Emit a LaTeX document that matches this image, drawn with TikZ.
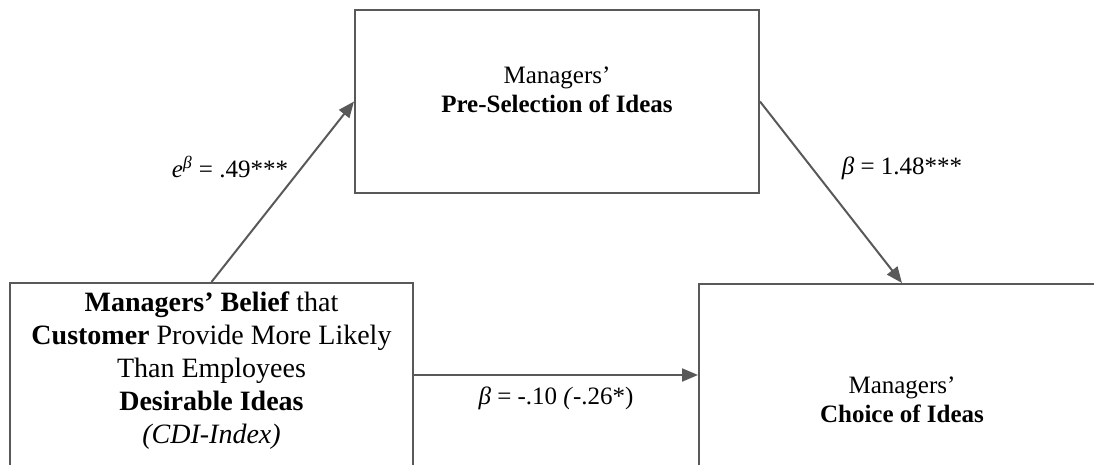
\documentclass[tikz,border=0pt]{standalone}
\usepackage{fontspec}
\setmainfont{Liberation Serif}
\usetikzlibrary{arrows.meta}
\definecolor{linegray}{HTML}{595959}
\tikzset{
  box/.style={draw=linegray, line width=1pt, rectangle, inner sep=0pt},
  arr/.style={draw=linegray, line width=1pt, -{Triangle[length=8pt,width=6.5pt]}},
  txt/.style={align=center, inner sep=0pt, font=\fontsize{12.5}{14.5}\selectfont},
  bigtxt/.style={align=center, inner sep=0pt, font=\fontsize{14}{16.5}\selectfont},
}
\begin{document}
\begin{tikzpicture}[x=0.5pt,y=-0.5pt]
\useasboundingbox (0,0) rectangle (1094,465);
\clip (0,0) rectangle (1094,465);
\node[box, minimum width=202pt, minimum height=91.5pt] (top) at (557,101.5) {};
\node[box, minimum width=201.5pt, minimum height=108.5pt] (left) at (211.5,391.5) {};
\node[box, minimum width=203pt, minimum height=108pt] (right) at (902,392) {};
\node[txt] (toptext) at (557,90) {Managers’\\\textbf{Pre-Selection of Ideas}};
\node[txt] (righttext) at (902,400) {Managers’\\\textbf{Choice of Ideas}};
\node[bigtxt] (lefttext) at (211.5,371) {\textbf{Managers’ Belief} that\\\textbf{Customer} Provide More Likely\\Than Employees\\\textbf{Desirable Ideas}\\\textit{(CDI-Index)}};
\coordinate (hy) at (0,375);
\draw[arr] (left.north) -- (top.west);
\draw[arr] (top.east) -- (right.north);
\draw[arr] (left.east |- hy) -- (right.west |- hy);
\node[txt] (l1) at (230,167) {\textit{e}\textsuperscript{\textit{β}} = .49***};
\node[txt] (l2) at (902,168) {\textit{β} = 1.48***};
\node[txt] (l3) at (556,398) {\textit{β} = -.10 \textit{(}-.26*)};
\end{tikzpicture}
\end{document}
